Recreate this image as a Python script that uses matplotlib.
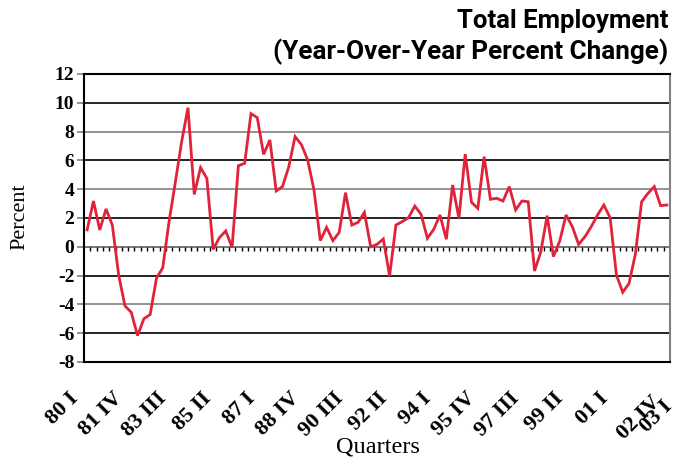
import matplotlib
matplotlib.use("Agg")
import matplotlib.pyplot as plt
import matplotlib.transforms as mtransforms
import numpy as np

# Year-over-year % change, quarterly 80 I .. 03 I
values = [
    1.17, 3.18, 1.17, 2.63, 1.5, -1.96, -4.1, -4.55, -6.17, -5.0,
    -4.7, -2.19, -1.45, 1.75, 4.5, 7.3, 9.66, 3.64, 5.5, 4.75,
    -0.18, 0.64, 1.1, -0.05, 5.63, 5.8, 9.25, 8.97, 6.42, 7.42,
    3.88, 4.18, 5.56, 7.65, 7.1, 6.03, 3.94, 0.43, 1.35, 0.43,
    1.0, 3.76, 1.51, 1.7, 2.39, 0.0, 0.17, 0.54, -2.03, 1.51,
    1.75, 2.02, 2.83, 2.25, 0.59, 1.21, 2.21, 0.52, 4.29, 1.98,
    6.44, 3.09, 2.67, 6.26, 3.3, 3.37, 3.18, 4.18, 2.56, 3.18,
    3.13, -1.68, -0.34, 2.16, -0.68, 0.4, 2.21, 1.4, 0.17, 0.7,
    1.4, 2.21, 2.9, 2.02, -1.96, -3.16, -2.54, -0.52, 3.13, 3.71,
    4.18, 2.86, 2.9,
]
tick_positions = [0, 7, 14, 21, 28, 35, 42, 49, 56, 63, 70, 77, 84, 91, 92]
tick_labels = ["80 I", "81 IV", "83 III", "85 II", "87 I", "88 IV", "90 III",
               "92 II", "94 I", "95 IV", "97 III", "99 II", "01 I", "02 IV", "03 I"]
y_ticks = list(range(-8, 13, 2))

title1 = "Total Employment"
title2 = "(Year-Over-Year Percent Change)"

fig = plt.figure(figsize=(6.78, 4.58), dpi=100)
ax = fig.add_axes([84/678, 1-362/458, (670-84)/678, (362-74)/458])

n = len(values)
x = np.arange(n)

# gridlines alternating black / gray
for yv in y_ticks:
    if yv in (-8, 12):
        continue
    col = "black" if (yv // 2) % 2 == 1 else "#808080"
    if yv == 0:
        col = "#606060"
    ax.axhline(yv, color=col, lw=1.2, zorder=1)

# minor tick marks at category boundaries along zero line
ax.vlines(np.arange(n - 1) + 0.5, -0.3, 0, color="black", lw=1.0, zorder=1)

ax.plot(x, values, color="#E0233A", lw=2.0, zorder=3, solid_joinstyle="miter")

ax.set_xlim(-0.5, n - 0.5)
ax.set_ylim(-8, 12)
ax.set_yticks(y_ticks)
ax.set_yticklabels([str(v) for v in y_ticks], fontsize=14, fontweight="bold",
                   family="Liberation Serif")
ax.tick_params(axis="y", direction="out", length=5, width=1.2, color="#808080", pad=2)

ax.set_xticks(tick_positions)
ax.set_xticklabels(tick_labels, fontsize=16, fontweight="bold",
                   family="Liberation Serif")
ax.tick_params(axis="x", length=0, pad=24)
for i, lbl in enumerate(ax.get_xticklabels()):
    lbl.set_rotation(45)
    lbl.set_rotation_mode("anchor")
    lbl.set_ha("right")
    lbl.set_va("center")
    dx, dy = -11.5, 0.0
    if tick_labels[i] == "02 IV":
        dx, dy = -3.0, -4.0
    elif tick_labels[i] == "03 I":
        dx, dy = 2.0, -8.0
    off = mtransforms.ScaledTranslation(dx/100, dy/100, fig.dpi_scale_trans)
    lbl.set_transform(lbl.get_transform() + off)

for s in ("top", "bottom", "left"):
    ax.spines[s].set_color("black")
    ax.spines[s].set_linewidth(1.5)
ax.spines["right"].set_color("#808080")
ax.spines["right"].set_linewidth(1.5)

fig.text(20/678, 1-217/458, "Percent", fontsize=16, family="Liberation Serif",
         rotation=90, ha="center", va="center")
fig.text(378/678, 1-452/458, "Quarters", fontsize=17.5, family="Liberation Serif",
         ha="center", va="baseline")

fig.text(668/678, 1-21/458, title1, fontsize=18.5, fontweight="bold",
         family="Roboto", ha="right", va="center")
fig.text(668/678, 1-52/458, title2, fontsize=18.8, fontweight="bold",
         family="Roboto", ha="right", va="center")

fig.savefig("out.png", dpi=100)
